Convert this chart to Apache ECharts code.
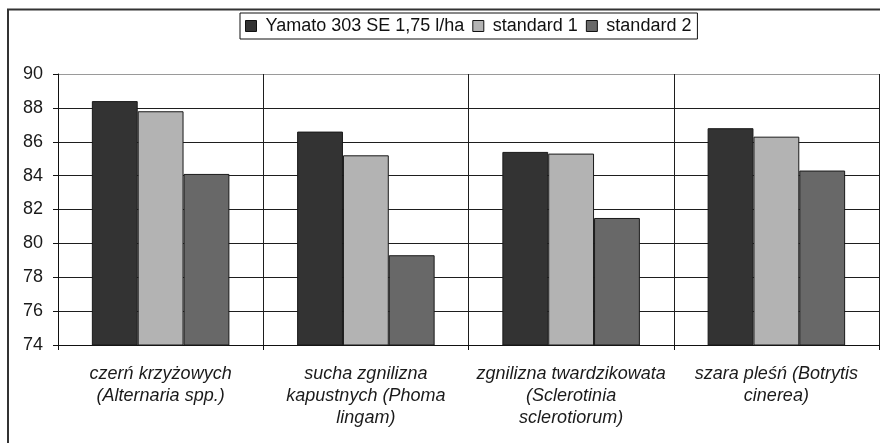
<!DOCTYPE html>
<html>
<head>
<meta charset="utf-8">
<script src="https://cdn.jsdelivr.net/npm/echarts@6/dist/echarts.min.js"></script>
<style>
  html, body { margin: 0; padding: 0; background: #fff; }
  #chart { width: 880px; height: 443px; }
</style>
</head>
<body>
<div id="chart"></div>
<script>
// Disease categories (labels broken into lines as printed under the axis)
const categories = [
  'czerń krzyżowych\n(Alternaria spp.)',
  'sucha zgnilizna\nkapustnych (Phoma\nlingam)',
  'zgnilizna twardzikowata\n(Sclerotinia\nsclerotiorum)',
  'szara pleśń (Botrytis\ncinerea)'
];

const seriesNames = ['Yamato 303 SE 1,75 l/ha', 'standard 1', 'standard 2'];

// Effectiveness values per treatment
const yamato = [88.4, 86.6, 85.4, 86.8];
const standard1 = [87.8, 85.2, 85.3, 86.3];
const standard2 = [84.1, 79.3, 81.5, 84.3];

// Value axis range and step
const yMin = 74;
const yMax = 90;
const yStep = 2;

const fills = ['#333333', '#b3b3b3', '#686868'];
const font = '"Liberation Sans", Arial, sans-serif';

const chart = echarts.init(document.getElementById('chart'), null, { renderer: 'canvas' });

const gridColors = [];
for (let v = yMin; v <= yMax; v += yStep) {
  gridColors.push(v === yMax ? '#9a9a9a' : '#1e1e1e');
}

const dataSets = [yamato, standard1, standard2];

chart.setOption({
  animation: false,
  backgroundColor: '#ffffff',
  textStyle: { fontFamily: font },
  graphic: [{
    type: 'rect',
    shape: { x: 8, y: 9.5, width: 890, height: 450 },
    style: { fill: 'none', stroke: '#333333', lineWidth: 2 },
    silent: true,
    z: 0
  }],
  legend: {
    left: 240,
    top: 13,
    padding: [4, 6, 4, 5],
    itemGap: 8,
    itemWidth: 11,
    itemHeight: 11,
    icon: 'rect',
    borderColor: '#111111',
    borderWidth: 1,
    backgroundColor: '#ffffff',
    selectedMode: false,
    textStyle: { fontFamily: font, fontSize: 18, color: '#111111', padding: [0, 0, 0, 4] },
    itemStyle: { borderColor: '#111111', borderWidth: 1 },
    data: seriesNames
  },
  grid: { left: 58, right: 1, top: 74, bottom: 98, containLabel: false },
  xAxis: {
    type: 'category',
    data: categories,
    boundaryGap: true,
    axisLine: { show: true, lineStyle: { color: '#111111', width: 1 } },
    axisTick: { show: true, length: 5, alignWithLabel: false, lineStyle: { color: '#111111' } },
    splitLine: { show: true, lineStyle: { color: '#1e1e1e', width: 1 } },
    axisLabel: {
      interval: 0,
      margin: 18,
      fontFamily: font,
      fontSize: 18,
      fontStyle: 'italic',
      lineHeight: 22,
      color: '#1a1a1a'
    }
  },
  yAxis: {
    type: 'value',
    min: yMin,
    max: yMax,
    interval: yStep,
    axisLine: { show: true, lineStyle: { color: '#111111', width: 1 } },
    axisTick: { show: true, length: 5, inside: false, lineStyle: { color: '#111111' } },
    splitLine: { show: true, lineStyle: { color: gridColors, width: 1 } },
    axisLabel: { margin: 15, fontFamily: font, fontSize: 18, color: '#1a1a1a' }
  },
  series: seriesNames.map((name, i) => ({
    name: name,
    type: 'bar',
    data: dataSets[i],
    barGap: '0%',
    barCategoryGap: '33%',
    itemStyle: { color: fills[i], borderColor: '#1a1a1a', borderWidth: 1 },
    z: 3
  }))
});
</script>
</body>
</html>
